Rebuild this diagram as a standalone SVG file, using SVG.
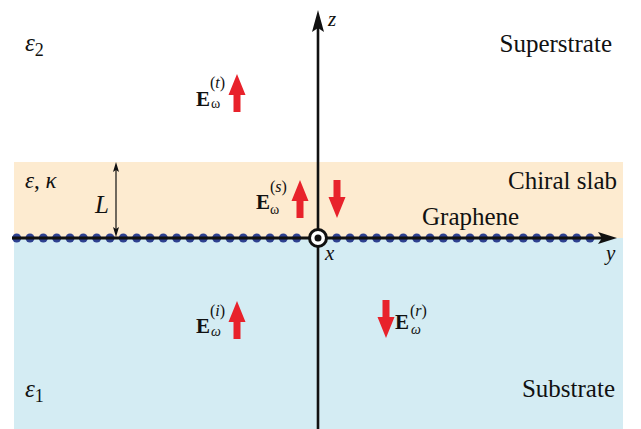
<svg xmlns="http://www.w3.org/2000/svg" xmlns:xlink="http://www.w3.org/1999/xlink" width="641" height="429" viewBox="0 0 641 429" font-family="Liberation Serif, DejaVu Serif, serif">
<style>
text{fill:#111}
.lbl{font-size:25px}
.mi{font-style:italic}
.eb{font-weight:bold;font-size:21px}
.sup{font-size:16px}
.sub{font-size:14px}
.red{fill:#E8222B}
</style>
<defs>
<path id="ra" d="M0,0 L8.5,21 L3.5,21 L3.5,38 L-3.5,38 L-3.5,21 L-8.5,21 Z"/>
<circle id="dot" r="4.5" fill="#2E4190"/>
</defs>
<g id="regions">
<rect x="14" y="162" width="609" height="76" fill="#FDEBD0"/>
<rect x="14" y="238" width="609" height="191" fill="#D4ECF3"/>
</g>
<g id="graphene">
<g id="dots">
<use xlink:href="#dot" x="16.7" y="238"/><use xlink:href="#dot" x="30" y="238"/><use xlink:href="#dot" x="43.3" y="238"/><use xlink:href="#dot" x="56.7" y="238"/><use xlink:href="#dot" x="70" y="238"/><use xlink:href="#dot" x="83.3" y="238"/><use xlink:href="#dot" x="96.7" y="238"/><use xlink:href="#dot" x="110" y="238"/><use xlink:href="#dot" x="123.3" y="238"/><use xlink:href="#dot" x="136.7" y="238"/><use xlink:href="#dot" x="150" y="238"/><use xlink:href="#dot" x="163.3" y="238"/><use xlink:href="#dot" x="176.7" y="238"/><use xlink:href="#dot" x="190" y="238"/><use xlink:href="#dot" x="203.3" y="238"/><use xlink:href="#dot" x="216.7" y="238"/><use xlink:href="#dot" x="230" y="238"/><use xlink:href="#dot" x="243.3" y="238"/><use xlink:href="#dot" x="256.7" y="238"/><use xlink:href="#dot" x="270" y="238"/><use xlink:href="#dot" x="283.3" y="238"/><use xlink:href="#dot" x="296.7" y="238"/><use xlink:href="#dot" x="336.7" y="238"/><use xlink:href="#dot" x="350" y="238"/><use xlink:href="#dot" x="363.3" y="238"/><use xlink:href="#dot" x="376.7" y="238"/><use xlink:href="#dot" x="390" y="238"/><use xlink:href="#dot" x="403.3" y="238"/><use xlink:href="#dot" x="416.7" y="238"/><use xlink:href="#dot" x="430" y="238"/><use xlink:href="#dot" x="443.3" y="238"/><use xlink:href="#dot" x="456.7" y="238"/><use xlink:href="#dot" x="470" y="238"/><use xlink:href="#dot" x="483.3" y="238"/><use xlink:href="#dot" x="496.7" y="238"/><use xlink:href="#dot" x="510" y="238"/><use xlink:href="#dot" x="523.3" y="238"/><use xlink:href="#dot" x="536.7" y="238"/><use xlink:href="#dot" x="550" y="238"/><use xlink:href="#dot" x="563.3" y="238"/><use xlink:href="#dot" x="576.7" y="238"/><use xlink:href="#dot" x="590" y="238"/>
</g>
</g>
<g id="connectors">
<line x1="12" y1="238" x2="604" y2="238" stroke="#111" stroke-width="3"/>
<path d="M617,238 L598,232 L602,238 L598,244 Z" fill="#111"/>
<line x1="318" y1="429" x2="318" y2="28" stroke="#111" stroke-width="2.6"/>
<path d="M318,10 L324,32 L318,28 L312,32 Z" fill="#111"/>
<line x1="116" y1="168" x2="116" y2="231" stroke="#111" stroke-width="1.2"/>
<path d="M116,162 L119,172 L116,170 L113,172 Z" fill="#111"/>
<path d="M116,237 L119,227 L116,229 L113,227 Z" fill="#111"/>
</g>
<g id="x-axis-marker">
<circle cx="318" cy="238" r="8.5" fill="#fff" stroke="#111" stroke-width="3"/>
<circle cx="318" cy="238" r="3.5" fill="#111"/>
</g>
<g id="axis-labels">
<text class="mi" x="328" y="26" font-size="21">z</text>
<text class="mi" x="325" y="260" font-size="21">x</text>
<text class="mi" x="606" y="260" font-size="21">y</text>
<text class="mi" x="95" y="213" font-size="25">L</text>
</g>
<g id="superstrate">
<text class="mi" x="25" y="51" font-size="25">ε<tspan font-style="normal" font-size="18" dy="5">2</tspan></text>
<text class="lbl" x="612" y="52" text-anchor="end">Superstrate</text>
</g>
<g id="slab">
<text class="mi" x="25" y="188" font-size="23">ε<tspan font-style="normal">, </tspan>κ</text>
<text class="lbl" x="617" y="189" text-anchor="end">Chiral slab</text>
<text class="lbl" x="422" y="225">Graphene</text>
</g>
<g id="substrate">
<text class="mi" x="25" y="397" font-size="25">ε<tspan font-style="normal" font-size="18" dy="5">1</tspan></text>
<text class="lbl" x="615" y="397" text-anchor="end">Substrate</text>
</g>
<g id="field-t">
<text class="eb" x="196" y="106">E</text>
<text class="sup" x="210" y="88">(<tspan class="mi">t</tspan>)</text>
<text class="sub" x="211" y="108">ω</text>
<use xlink:href="#ra" class="red" x="237" y="74"/>
</g>
<g id="field-s">
<text class="eb" x="256" y="209">E</text>
<text class="sup" x="270" y="192">(<tspan class="mi">s</tspan>)</text>
<text class="sub" x="270" y="214">ω</text>
<use xlink:href="#ra" class="red" x="300" y="180"/>
<use xlink:href="#ra" class="red" transform="translate(337,218) scale(1,-1)"/>
</g>
<g id="field-i">
<text class="eb" x="196" y="333">E</text>
<text class="sup" x="210" y="316">(<tspan class="mi">i</tspan>)</text>
<text class="sub mi" x="211" y="336">ω</text>
<use xlink:href="#ra" class="red" x="237" y="301"/>
</g>
<g id="field-r">
<text class="eb" x="395" y="329">E</text>
<text class="sup" x="410" y="316">(<tspan class="mi">r</tspan>)</text>
<text class="sub mi" x="411" y="334">ω</text>
<use xlink:href="#ra" class="red" transform="translate(386,338) scale(1,-1)"/>
</g>
</svg>
